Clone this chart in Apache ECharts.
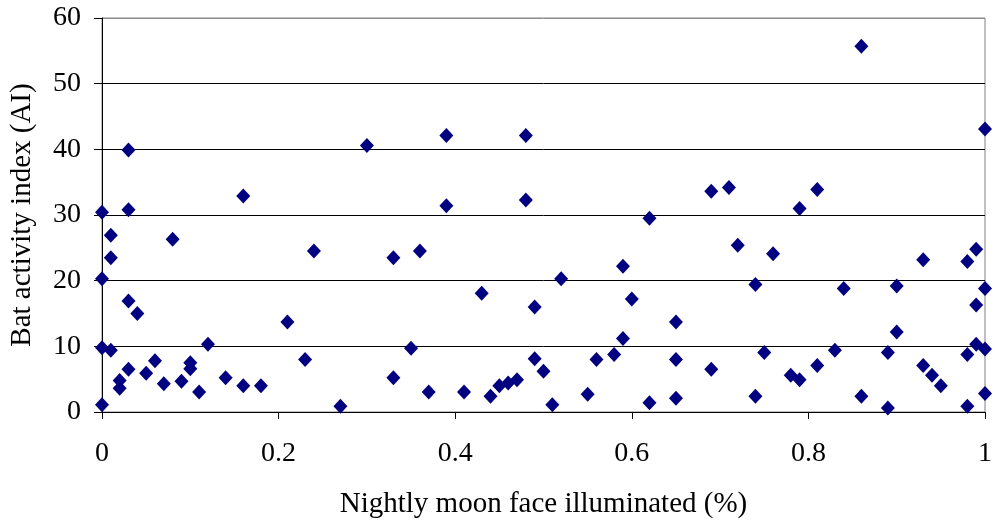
<!DOCTYPE html>
<html>
<head>
<meta charset="utf-8">
<script src="https://cdn.jsdelivr.net/npm/echarts@6/dist/echarts.min.js"></script>
<style>html,body{margin:0;padding:0;background:#fff;}#c{width:997px;height:529px;}</style>
</head>
<body>
<div id="c"></div>
<script>
const moonFraction = [
  0, 0, 0, 0, 0.01, 0.01, 0.01, 0.03, 0.03, 0.03, 0.04, 0.02, 0.02, 0.03, 0.05, 0.06, 0.07, 0.08, 0.09, 0.10, 0.10, 0.11, 0.12, 0.14, 0.16, 0.16,
  0.18, 0.21, 0.23, 0.24, 0.27, 0.30, 0.33, 0.33,
  0.35, 0.36, 0.37, 0.39, 0.39, 0.41, 0.43, 0.44, 0.45, 0.46, 0.47, 0.48, 0.48, 0.49, 0.49, 0.50, 0.51, 0.52,
  0.55, 0.56, 0.58, 0.59, 0.59, 0.60, 0.62, 0.62, 0.65, 0.65, 0.65, 0.69, 0.69,
  0.71, 0.72, 0.74, 0.74, 0.75, 0.76, 0.78, 0.79, 0.79, 0.81, 0.81, 0.83, 0.84, 0.86, 0.86,
  0.89, 0.89, 0.90, 0.90, 0.93, 0.93, 0.94, 0.95, 0.98, 0.98, 0.98, 0.99, 0.99, 0.99, 1, 1, 1, 1
];
const activityIndex = [
  30.4, 20.3, 9.8, 1.1, 26.9, 23.5, 9.4, 39.9, 30.8, 16.9, 15.0, 4.8, 3.6, 6.5, 5.9, 7.8, 4.3, 26.3, 4.7, 7.5, 6.6, 3.05, 10.3, 5.2, 32.9, 4.0,
  4.0, 13.7, 8.0, 24.5, 0.87, 40.6, 23.5, 5.2,
  9.7, 24.5, 3.05, 42.1, 31.4, 3.05, 18.1, 2.4, 4.0, 4.4, 4.9, 42.1, 32.3, 16.0, 8.1, 6.2, 1.1, 20.3,
  2.7, 8.0, 8.75, 22.2, 11.2, 17.2, 29.5, 1.4, 13.7, 8.0, 2.1, 33.6, 6.5,
  34.2, 25.4, 19.4, 2.4, 9.06, 24.1, 5.6, 31.0, 4.9, 33.9, 7.1, 9.4, 18.8, 55.7, 2.4,
  9.06, 0.6, 19.2, 12.2, 23.2, 7.1, 5.6, 4.0, 22.9, 8.75, 0.87, 24.8, 16.3, 10.3, 43.1, 18.8, 9.6, 2.8
];
const xTicks = [0, 0.2, 0.4, 0.6, 0.8, 1];
const yTicks = [0, 10, 20, 30, 40, 50, 60];
const xTitle = 'Nightly moon face illuminated (%)';
const yTitle = 'Bat activity index (AI)';

const points = moonFraction.map((x, i) => [x, activityIndex[i]]);
const font = 'Liberation Serif, Times New Roman, serif';

const chart = echarts.init(document.getElementById('c'), null, {renderer: 'canvas'});
chart.setOption({
  backgroundColor: '#ffffff',
  animation: false,
  grid: {left: 101, right: 12, top: 18, bottom: 117, show: true, borderColor: '#808080', borderWidth: 1, backgroundColor: 'transparent'},
  xAxis: {
    type: 'value', min: xTicks[0], max: xTicks[xTicks.length - 1], interval: 0.2,
    name: xTitle, nameLocation: 'middle', nameGap: 78, nameMoveOverlap: false,
    nameTextStyle: {fontFamily: font, fontSize: 29, color: '#000'},
    axisLine: {show: true, lineStyle: {color: '#000', width: 1}},
    axisTick: {show: true, inside: false, length: 7, lineStyle: {color: '#000'}},
    axisLabel: {margin: 28, verticalAlign: 'top', fontFamily: font, fontSize: 28, color: '#000', formatter: v => String(+v.toFixed(1))},
    splitLine: {show: false}
  },
  yAxis: {
    type: 'value', min: yTicks[0], max: yTicks[yTicks.length - 1], interval: 10,
    name: yTitle, nameLocation: 'middle', nameGap: 65, nameRotate: 90, nameMoveOverlap: false,
    nameTextStyle: {fontFamily: font, fontSize: 29, color: '#000'},
    axisLine: {show: true, lineStyle: {color: '#000', width: 1}},
    axisTick: {show: true, inside: false, length: 8, lineStyle: {color: '#000'}},
    axisLabel: {margin: 21, fontFamily: font, fontSize: 28, color: '#000'},
    splitLine: {show: true, lineStyle: {color: ['#000', '#000', '#000', '#000', '#000', '#000', '#909090'], width: 1}}
  },
  series: [{
    type: 'scatter',
    data: points,
    symbol: 'diamond',
    symbolSize: [14, 15],
    itemStyle: {color: '#000080', opacity: 1},
    clip: false
  }]
});
</script>
</body>
</html>
